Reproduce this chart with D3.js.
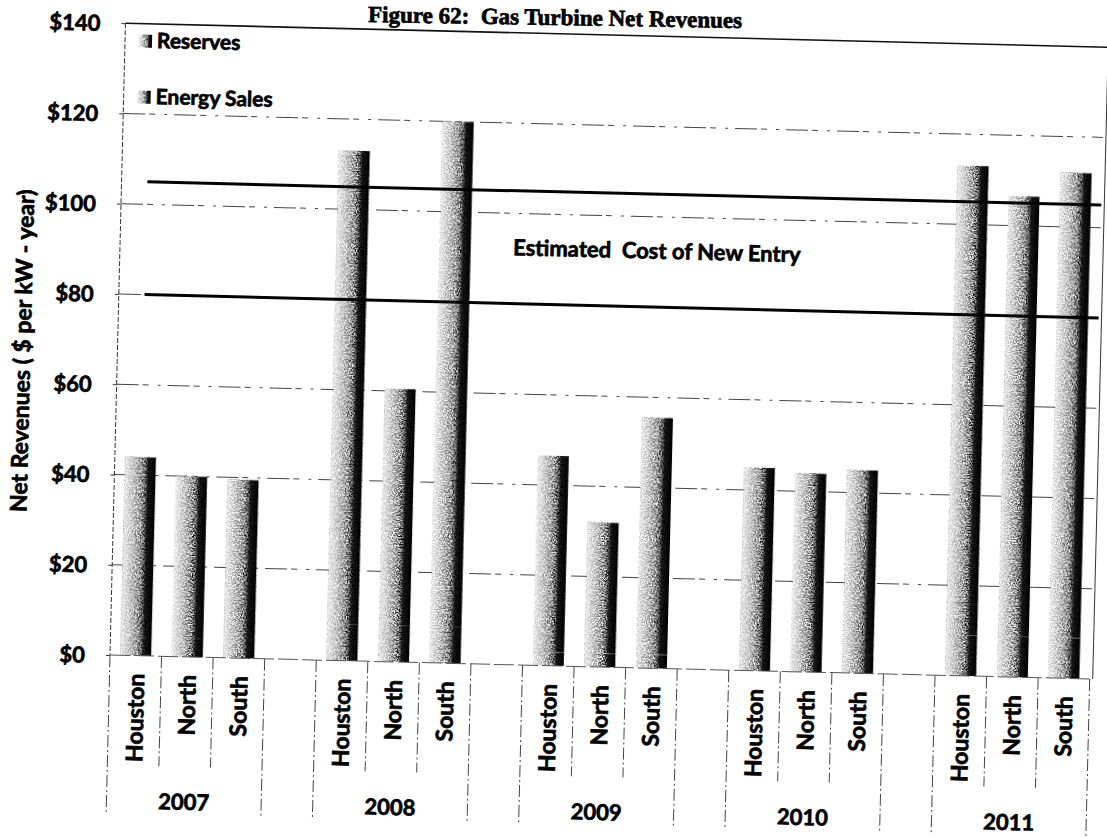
<!DOCTYPE html>
<html>
<head>
<meta charset="utf-8">
<script src="https://cdn.jsdelivr.net/npm/d3@7"></script>
<style>
  html, body { margin: 0; padding: 0; background: #fff; }
  svg { display: block; }
  .heavy { stroke: #000; stroke-width: 0.7px; paint-order: stroke; }
</style>
</head>
<body>
<div id="chart"></div>
<script>
// ---- data ($ per kW-year) ----
const years = ["2007", "2008", "2009", "2010", "2011"];
const regions = ["Houston", "North", "South"];

const houstonReserves = [4, 8, 3, 4, 9];
const houstonEnergy   = [40, 105, 43.5, 41, 104];
const northReserves   = [4, 8, 3, 4, 9];
const northEnergy     = [36, 52.5, 29, 40, 97.5];
const southReserves   = [4, 8, 3, 4, 9];
const southEnergy     = [35.5, 112, 52.5, 41, 103];

const seriesNames = ["Reserves", "Energy Sales"];
const coneLevels = [80, 105];
const yTicks = [0, 20, 40, 60, 80, 100, 120, 140];
const coneLabel = "Estimated  Cost of New Entry";
const titleText = "Figure 62:  Gas Turbine Net Revenues";
const yTitle = "Net Revenues ( $ per kW - year)";

const reservesByRegion = { Houston: houstonReserves, North: northReserves, South: southReserves };
const energyByRegion   = { Houston: houstonEnergy,   North: northEnergy,   South: southEnergy };

// ---- layout ----
const W = 1107, H = 838;
const plotLeft = 110, plotRight = 1090, plotTop = 23, plotBase = 655;
const tilt = 1.4;

// category slots: three regions per year, one empty slot between years
const slots = [];
years.forEach((yr, yi) => {
  regions.forEach((rg, ri) => {
    slots.push({ key: yr + "|" + rg, year: yr, yi, region: rg });
  });
  if (yi < years.length - 1) slots.push({ key: "gap" + yi, gap: true });
});

const x = d3.scaleBand()
  .domain(slots.map(d => d.key))
  .range([plotLeft, plotRight])
  .paddingInner(0.4)
  .paddingOuter(0.2);
const step = x.step();
const slotStart = k => x(k) - step * 0.2;

const y = d3.scaleLinear().domain([0, 140]).range([plotBase, plotTop]);

const svg = d3.select("#chart").append("svg")
  .attr("width", W).attr("height", H)
  .attr("font-family", "Lato, 'Open Sans', sans-serif");

svg.append("rect").attr("width", W).attr("height", H).attr("fill", "#fff");

const defs = svg.append("defs");
const grad = defs.append("linearGradient").attr("id", "barShade")
  .attr("x1", "0%").attr("x2", "100%").attr("y1", "0%").attr("y2", "0%");
[[0, "#ececec"], [0.3, "#c4c4c4"], [0.55, "#979797"], [0.68, "#5a5a5a"], [0.75, "#151515"], [1, "#000"]]
  .forEach(([o, c]) => grad.append("stop").attr("offset", o).attr("stop-color", c));

// speckled print texture on the bars
const grain = defs.append("filter").attr("id", "grain")
  .attr("x", "0").attr("y", "0").attr("width", "1").attr("height", "1")
  .attr("color-interpolation-filters", "sRGB");
grain.append("feTurbulence").attr("type", "fractalNoise")
  .attr("baseFrequency", "0.75").attr("numOctaves", 2).attr("seed", 7).attr("result", "noise");
grain.append("feColorMatrix").attr("in", "noise").attr("type", "matrix")
  .attr("values", "1 0 0 0 0  1 0 0 0 0  1 0 0 0 0  0 0 0 0 1").attr("result", "gray");
const ct = grain.append("feComponentTransfer").attr("in", "gray").attr("result", "contrast");
["feFuncR", "feFuncG", "feFuncB"].forEach(f =>
  ct.append(f).attr("type", "linear").attr("slope", 3.2).attr("intercept", -1.1));
grain.append("feBlend").attr("in", "contrast").attr("in2", "SourceGraphic")
  .attr("mode", "overlay").attr("result", "mixed");
grain.append("feComposite").attr("in", "mixed").attr("in2", "SourceGraphic").attr("operator", "in");

const root = svg.append("g").attr("transform", `rotate(${tilt},${plotLeft},${plotBase})`);

// title
svg.append("text")
  .attr("class", "heavy")
  .attr("transform", "rotate(0.9,555,25)")
  .attr("x", 555).attr("y", 25)
  .attr("text-anchor", "middle")
  .attr("font-family", "'Liberation Serif', 'Times New Roman', serif")
  .attr("font-weight", "bold").attr("font-size", 23)
  .attr("xml:space", "preserve")
  .text(titleText);

// gridlines
root.append("g").selectAll("line")
  .data(yTicks.filter(t => t > 0 && t < 140))
  .join("line")
  .attr("x1", plotLeft).attr("x2", plotRight)
  .attr("y1", d => y(d)).attr("y2", d => y(d))
  .attr("stroke", "#444").attr("stroke-width", 1)
  .attr("stroke-dasharray", "22,4,6,9,3,7");

// plot frame: top, left, right
root.append("line").attr("x1", plotLeft).attr("x2", plotRight + 4)
  .attr("y1", y(140)).attr("y2", y(140))
  .attr("stroke", "#111").attr("stroke-width", 1.6);
root.append("line").attr("x1", plotLeft).attr("x2", plotLeft)
  .attr("y1", y(140)).attr("y2", plotBase)
  .attr("stroke", "#333").attr("stroke-width", 1).attr("stroke-dasharray", "5,2");
root.append("line").attr("x1", plotRight + 3).attr("x2", plotRight + 3)
  .attr("y1", y(140)).attr("y2", plotBase)
  .attr("stroke", "#333").attr("stroke-width", 1);

// y axis labels
const yAxis = d3.axisLeft(y).tickValues(yTicks).tickFormat(d => "$" + d).tickSize(4).tickPadding(21);
const yg = root.append("g").attr("transform", `translate(${plotLeft},0)`).call(yAxis);
yg.select(".domain").remove();
yg.selectAll(".tick line").attr("stroke", "#333");
yg.selectAll(".tick text")
  .attr("class", "heavy")
  .attr("font-family", "Lato, sans-serif")
  .attr("font-weight", "bold").attr("font-size", 22).attr("fill", "#000")
  .attr("dy", "0.35em");

// y axis title
root.append("text")
  .attr("class", "heavy")
  .attr("transform", `translate(14,353) rotate(-90)`)
  .attr("text-anchor", "middle").attr("dominant-baseline", "central")
  .attr("font-weight", "bold").attr("font-size", 23)
  .text(yTitle);

// stacked bars
const barData = [];
slots.filter(s => !s.gap).forEach(s => {
  const r = reservesByRegion[s.region][s.yi];
  const e = energyByRegion[s.region][s.yi];
  barData.push({ key: s.key, series: seriesNames[0], y0: 0, y1: r });
  barData.push({ key: s.key, series: seriesNames[1], y0: r, y1: r + e });
});
root.append("g").attr("filter", "url(#grain)")
  .selectAll("rect").data(barData).join("rect")
  .attr("x", d => x(d.key))
  .attr("width", x.bandwidth())
  .attr("y", d => y(d.y1))
  .attr("height", d => y(d.y0) - y(d.y1))
  .attr("fill", "url(#barShade)");

// cost of new entry lines
const firstCenter = x(slots[0].key) + x.bandwidth() / 2;
root.append("g").selectAll("line").data(coneLevels).join("line")
  .attr("x1", firstCenter).attr("x2", plotRight)
  .attr("y1", d => y(d)).attr("y2", d => y(d))
  .attr("stroke", "#000").attr("stroke-width", 3);

root.append("text")
  .attr("class", "heavy")
  .attr("x", 503).attr("y", y(92.5) + 8)
  .attr("font-weight", "bold").attr("font-size", 22)
  .attr("xml:space", "preserve")
  .text(coneLabel);

// legend
const lg = root.append("g");
seriesNames.forEach((name, i) => {
  const ly = 40 + i * 56;
  lg.append("rect").attr("x", 124).attr("y", ly - 6).attr("width", 13).attr("height", 13)
    .attr("fill", "url(#barShade)").attr("filter", "url(#grain)");
  lg.append("text").attr("class", "heavy").attr("x", 142).attr("y", ly + 7)
    .attr("font-weight", "bold").attr("font-size", 21)
    .text(name);
});

// two-level category axis
const regionBottom = plotBase + 110;
const yearBottom = plotBase + 160;
const axisG = root.append("g");

years.forEach((yr, yi) => {
  const keys = regions.map(rg => yr + "|" + rg);
  const gx0 = slotStart(keys[0]);
  const gx1 = slotStart(keys[2]) + step;
  [gx0, gx1].forEach(gx => {
    axisG.append("line").attr("x1", gx).attr("x2", gx)
      .attr("y1", plotBase).attr("y2", yearBottom)
      .attr("stroke", "#444").attr("stroke-width", 1).attr("stroke-dasharray", "12,3,2,3");
  });
  [1, 2].forEach(ri => {
    const sx = slotStart(keys[ri]);
    axisG.append("line").attr("x1", sx).attr("x2", sx)
      .attr("y1", plotBase).attr("y2", regionBottom)
      .attr("stroke", "#444").attr("stroke-width", 1).attr("stroke-dasharray", "12,3,2,3");
  });
  axisG.append("text")
    .attr("class", "heavy")
    .attr("x", (gx0 + gx1) / 2).attr("y", plotBase + 153)
    .attr("text-anchor", "middle")
    .attr("font-weight", "bold").attr("font-size", 22)
    .text(yr);
});

// zero line under the bars
root.append("line").attr("x1", plotLeft).attr("x2", plotRight)
  .attr("y1", plotBase).attr("y2", plotBase)
  .attr("stroke", "#555").attr("stroke-width", 1).attr("stroke-dasharray", "20,4");

// region labels (vertical)
axisG.selectAll("text.region").data(slots.filter(s => !s.gap)).join("text")
  .attr("class", "region heavy")
  .attr("transform", d => `translate(${x(d.key) + x.bandwidth() / 2},${plotBase + 18}) rotate(-90)`)
  .attr("text-anchor", "end").attr("dominant-baseline", "central")
  .attr("font-weight", "bold").attr("font-size", 23)
  .text(d => d.region);
</script>
</body>
</html>
